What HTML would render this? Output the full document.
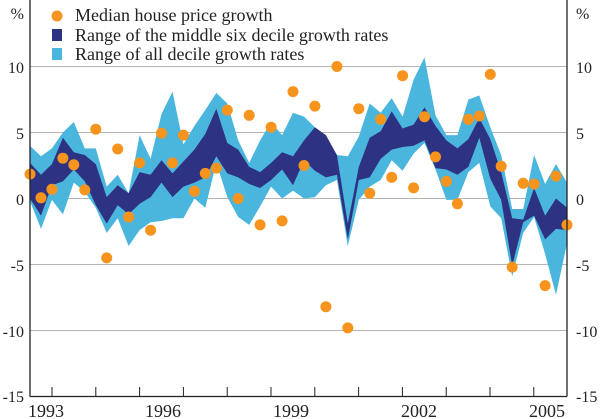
<!DOCTYPE html>
<html><head><meta charset="utf-8"><style>
html,body{margin:0;padding:0;background:#fff}
svg{display:block}
text{font-family:"Liberation Serif",serif;font-size:16px;fill:#222}
.lg{font-size:18px}
.yr{font-size:18px}
</style></head><body>
<svg width="600" height="419" viewBox="0 0 600 419" xmlns="http://www.w3.org/2000/svg">
<g stroke="#b4b4b4" stroke-width="1">
<line x1="30" y1="66.5" x2="567" y2="66.5"/>
<line x1="30" y1="132.5" x2="567" y2="132.5"/>
<line x1="30" y1="198.5" x2="567" y2="198.5"/>
<line x1="30" y1="264.5" x2="567" y2="264.5"/>
<line x1="30" y1="330.5" x2="567" y2="330.5"/>
</g>
<g transform="translate(0,198.5) scale(1,-13.2)">
<polygon fill="#4ab6de" points="30.0,4.0 41.0,3.2 51.9,3.8 62.9,5.0 73.8,5.8 84.8,3.8 95.8,3.8 106.7,0.9 117.7,1.8 128.6,0.4 139.6,4.8 150.6,3.0 161.5,6.4 172.5,8.1 183.4,4.1 194.4,5.5 205.3,6.7 216.3,8.0 227.3,7.2 238.2,4.4 249.2,2.7 260.1,4.4 271.1,5.8 282.1,4.8 293.0,6.5 304.0,6.2 314.9,5.4 325.9,4.4 336.9,3.3 347.8,3.2 358.8,4.7 369.7,7.2 380.7,6.5 391.7,7.6 402.6,6.2 413.6,9.0 424.5,10.7 435.5,6.3 446.4,4.8 457.4,4.8 468.4,7.5 479.3,7.8 490.3,5.4 501.2,3.3 512.2,-0.8 523.2,-0.8 534.1,3.3 545.1,1.1 556.0,2.6 567.0,1.2 567.0,-3.4 556.0,-7.3 545.1,-4.2 534.1,-1.4 523.2,-2.6 512.2,-5.9 501.2,-1.5 490.3,-0.6 479.3,2.7 468.4,2.0 457.4,-0.1 446.4,-0.1 435.5,2.2 424.5,4.2 413.6,3.4 402.6,2.1 391.7,2.9 380.7,1.4 369.7,0.9 358.8,-0.1 347.8,-3.6 336.9,1.4 325.9,1.0 314.9,0.1 304.0,0.0 293.0,0.6 282.1,0.0 271.1,0.9 260.1,-0.6 249.2,-2.0 238.2,-1.4 227.3,0.1 216.3,2.7 205.3,-0.7 194.4,0.0 183.4,-1.5 172.5,-1.5 161.5,-1.7 150.6,-1.8 139.6,-2.4 128.6,-3.6 117.7,-1.5 106.7,-2.6 95.8,-0.7 84.8,0.5 73.8,1.2 62.9,-1.2 51.9,-0.1 41.0,-2.3 30.0,-0.2"/>
<polygon fill="#2e3282" points="30.0,2.7 41.0,1.8 51.9,2.6 62.9,4.6 73.8,3.5 84.8,3.3 95.8,2.6 106.7,0.1 117.7,1.0 128.6,0.4 139.6,2.0 150.6,1.8 161.5,2.9 172.5,1.9 183.4,2.8 194.4,3.7 205.3,4.9 216.3,6.8 227.3,4.2 238.2,3.7 249.2,2.4 260.1,2.0 271.1,2.7 282.1,3.5 293.0,3.2 304.0,4.4 314.9,5.4 325.9,4.8 336.9,3.3 347.8,-1.9 358.8,2.4 369.7,4.6 380.7,5.1 391.7,6.6 402.6,5.3 413.6,5.6 424.5,6.9 435.5,5.5 446.4,4.4 457.4,3.8 468.4,4.5 479.3,6.1 490.3,4.5 501.2,2.0 512.2,-1.5 523.2,-1.6 534.1,0.8 545.1,-1.3 556.0,0.0 567.0,-0.7 567.0,-2.4 556.0,-2.3 545.1,-3.1 534.1,-1.3 523.2,-1.8 512.2,-5.1 501.2,-0.1 490.3,1.5 479.3,4.6 468.4,2.4 457.4,1.8 446.4,2.2 435.5,2.3 424.5,4.4 413.6,4.0 402.6,3.9 391.7,3.7 380.7,3.0 369.7,1.6 358.8,1.4 347.8,-3.1 336.9,1.8 325.9,1.6 314.9,2.1 304.0,2.9 293.0,1.0 282.1,2.2 271.1,1.4 260.1,0.8 249.2,1.1 238.2,1.6 227.3,1.9 216.3,3.2 205.3,1.6 194.4,1.2 183.4,0.9 172.5,0.1 161.5,1.2 150.6,0.1 139.6,-0.4 128.6,-1.2 117.7,-0.5 106.7,-1.9 95.8,-0.5 84.8,1.3 73.8,2.2 62.9,1.3 51.9,1.0 41.0,-1.3 30.0,0.0"/>
</g>
<g fill="#f7941d">
<circle cx="30.0" cy="174.1" r="5.5"/><circle cx="41.0" cy="197.8" r="5.5"/><circle cx="51.9" cy="189.3" r="5.5"/><circle cx="62.9" cy="158.2" r="5.5"/><circle cx="73.8" cy="164.8" r="5.5"/>
<circle cx="84.8" cy="189.9" r="5.5"/><circle cx="95.8" cy="129.2" r="5.5"/><circle cx="106.7" cy="257.9" r="5.5"/><circle cx="117.7" cy="149.0" r="5.5"/><circle cx="128.6" cy="217.0" r="5.5"/>
<circle cx="139.6" cy="162.9" r="5.5"/><circle cx="150.6" cy="230.2" r="5.5"/><circle cx="161.5" cy="133.2" r="5.5"/><circle cx="172.5" cy="162.9" r="5.5"/><circle cx="183.4" cy="135.1" r="5.5"/>
<circle cx="194.4" cy="191.2" r="5.5"/><circle cx="205.3" cy="173.4" r="5.5"/><circle cx="216.3" cy="168.1" r="5.5"/><circle cx="227.3" cy="110.1" r="5.5"/><circle cx="238.2" cy="198.5" r="5.5"/>
<circle cx="249.2" cy="115.3" r="5.5"/><circle cx="260.1" cy="224.9" r="5.5"/><circle cx="271.1" cy="127.2" r="5.5"/><circle cx="282.1" cy="220.9" r="5.5"/><circle cx="293.0" cy="91.6" r="5.5"/>
<circle cx="304.0" cy="165.5" r="5.5"/><circle cx="314.9" cy="106.1" r="5.5"/><circle cx="325.9" cy="306.7" r="5.5"/><circle cx="336.9" cy="66.5" r="5.5"/><circle cx="347.8" cy="327.9" r="5.5"/>
<circle cx="358.8" cy="108.7" r="5.5"/><circle cx="369.7" cy="193.2" r="5.5"/><circle cx="380.7" cy="119.3" r="5.5"/><circle cx="391.7" cy="177.4" r="5.5"/><circle cx="402.6" cy="75.7" r="5.5"/>
<circle cx="413.6" cy="187.9" r="5.5"/><circle cx="424.5" cy="116.7" r="5.5"/><circle cx="435.5" cy="156.9" r="5.5"/><circle cx="446.4" cy="181.3" r="5.5"/><circle cx="457.4" cy="203.8" r="5.5"/>
<circle cx="468.4" cy="119.3" r="5.5"/><circle cx="479.3" cy="116.0" r="5.5"/><circle cx="490.3" cy="74.4" r="5.5"/><circle cx="501.2" cy="166.2" r="5.5"/><circle cx="512.2" cy="267.1" r="5.5"/>
<circle cx="523.2" cy="183.3" r="5.5"/><circle cx="534.1" cy="184.0" r="5.5"/><circle cx="545.1" cy="285.6" r="5.5"/><circle cx="556.0" cy="176.1" r="5.5"/><circle cx="567.0" cy="224.9" r="5.5"/>
</g>
<g stroke="#222" stroke-width="1.3" fill="none">
<line x1="30" y1="0" x2="30" y2="396.5"/>
<line x1="567" y1="0" x2="567" y2="396.5"/>
<line x1="30" y1="396.5" x2="567" y2="396.5"/>
</g>
<g stroke="#222" stroke-width="1">
<line x1="52" y1="387" x2="52" y2="396"/><line x1="95.8" y1="387" x2="95.8" y2="396"/><line x1="139.6" y1="387" x2="139.6" y2="396"/><line x1="183.4" y1="387" x2="183.4" y2="396"/>
<line x1="227.2" y1="387" x2="227.2" y2="396"/><line x1="271" y1="387" x2="271" y2="396"/><line x1="314.8" y1="387" x2="314.8" y2="396"/><line x1="358.6" y1="387" x2="358.6" y2="396"/>
<line x1="402.4" y1="387" x2="402.4" y2="396"/><line x1="446.2" y1="387" x2="446.2" y2="396"/><line x1="490" y1="387" x2="490" y2="396"/><line x1="533.8" y1="387" x2="533.8" y2="396"/>
</g>
<g text-anchor="end">
<text x="24" y="19">%</text>
<text x="24" y="73">10</text>
<text x="24" y="139">5</text>
<text x="24" y="205">0</text>
<text x="24" y="271">-5</text>
<text x="24" y="337">-10</text>
<text x="24" y="402">-15</text>
</g>
<g text-anchor="start">
<text x="576" y="19">%</text>
<text x="576" y="73">10</text>
<text x="576" y="139">5</text>
<text x="576" y="205">0</text>
<text x="576" y="271">-5</text>
<text x="576" y="337">-10</text>
<text x="576" y="402">-15</text>
</g>
<g text-anchor="middle" class="yr">
<text class="yr" x="46" y="417">1993</text>
<text class="yr" x="163" y="417">1996</text>
<text class="yr" x="291" y="417">1999</text>
<text class="yr" x="419" y="417">2002</text>
<text class="yr" x="547" y="417">2005</text>
</g>
<circle cx="57" cy="16" r="5.5" fill="#f7941d"/>
<rect x="52" y="29" width="10" height="12" fill="#2e3282"/>
<rect x="52" y="48" width="10" height="12" fill="#4ab6de"/>
<text class="lg" x="75" y="21">Median house price growth</text>
<text class="lg" x="75" y="41">Range of the middle six decile growth rates</text>
<text class="lg" x="75" y="60">Range of all decile growth rates</text>
</svg>
</body></html>
